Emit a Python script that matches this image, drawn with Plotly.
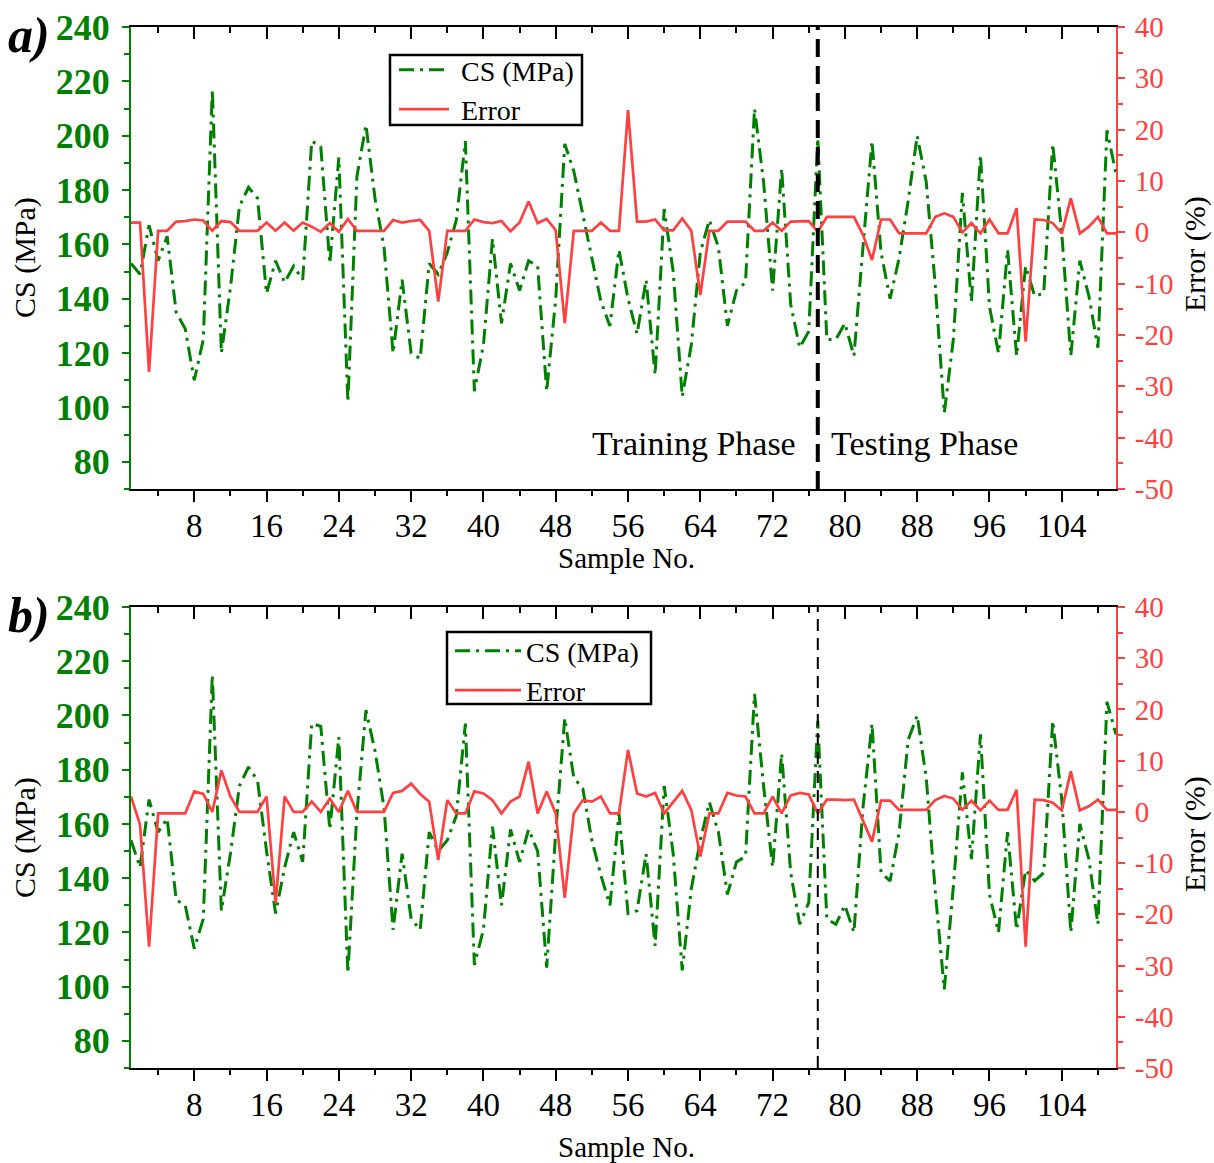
import plotly.graph_objects as go

samples = list(range(1, 111))

cs_a = [153, 149, 167, 154, 163, 135, 129, 110, 125, 217,
        120, 144, 174, 181, 177, 142, 154, 146, 152, 147,
        198, 196, 153, 192, 102, 185, 204, 177, 159, 120,
        147, 120, 118, 153, 149, 157, 169, 198, 106, 123,
        162, 131, 153, 143, 154, 152, 106, 140, 197, 187,
        171, 155, 139, 130, 158, 140, 127, 147, 112, 173,
        150, 104, 123, 157, 169, 159, 130, 143, 146, 210,
        183, 143, 188, 138, 122, 128, 199, 125, 125, 131,
        119, 159, 198, 157, 140, 155, 176, 200, 183, 145,
        98, 125, 179, 139, 193, 137, 120, 158, 119, 152,
        141, 142, 197, 164, 119, 154, 141, 122, 202, 186]

err_a = [1.9, 1.9, -27.2, 0.3, 0.3, 2.1, 2.2, 2.5, 2.3, 0.3,
         2.2, 2.0, 0.3, 0.3, 0.3, 1.9, 0.3, 1.9, 0.3, 1.9,
         1.1, 0.1, 1.8, 0.1, 2.6, 0.3, 0.3, 0.3, 0.3, 2.4,
         1.9, 2.2, 2.4, 0.3, -13.5, 0.3, 0.3, 0.3, 2.5, 2.0,
         1.8, 2.2, 0.2, 1.9, 6.0, 1.8, 2.6, 0.4, -17.7, 0.3,
         0.3, 0.3, 1.9, 0.3, 0.3, 23.8, 2.1, 2.1, 2.5, 0.4,
         0.4, 2.7, 0.3, -12.2, 0.3, 0.3, 2.1, 2.1, 2.1, 0.3,
         0.3, 1.9, 0.3, 2.1, 2.2, 2.2, 0.1, 3.0, 3.0, 3.0,
         3.0, -0.5, -5.4, 2.5, 2.5, -0.2, -0.2, -0.2, -0.2, 3.0,
         3.7, 3.0, 0.0, 1.8, -0.2, 2.5, -0.2, -0.2, 4.7, -21.3,
         2.5, 2.4, 1.8, -0.2, 6.6, -0.2, 1.1, 3.0, -0.2, -0.2]

cs_b = [154, 144, 169, 157, 162, 132, 130, 114, 125, 215,
        128, 149, 174, 181, 176, 150, 127, 144, 157, 146,
        197, 196, 158, 192, 105, 164, 202, 187, 166, 121,
        149, 125, 121, 157, 150, 154, 163, 197, 108, 121,
        159, 130, 158, 146, 158, 150, 107, 157, 199, 177,
        173, 154, 141, 130, 164, 127, 128, 149, 115, 174,
        149, 106, 136, 154, 168, 157, 134, 146, 148, 208,
        174, 144, 186, 142, 123, 131, 198, 125, 123, 130,
        120, 166, 197, 142, 139, 157, 191, 200, 177, 135,
        99, 137, 179, 147, 193, 134, 120, 157, 121, 143,
        139, 142, 198, 169, 120, 160, 147, 123, 205, 193]

err_b = [3.0, -2.5, -26.3, -0.3, -0.3, -0.3, -0.3, 4.0, 3.5, 0.0,
         8.1, 3.0, 0.0, 0.0, 0.0, 3.0, -17.8, 3.0, 0.0, 0.0,
         2.0, 0.0, 2.6, 0.0, 4.1, 0.0, 0.0, 0.0, 0.0, 3.7,
         4.1, 5.5, 3.5, 2.0, -9.4, 2.3, -0.3, -0.3, 4.0, 3.6,
         2.3, -0.3, 2.0, 3.0, 9.8, -0.3, 4.0, -0.3, -16.8, -0.3,
         2.3, 2.0, 3.0, -0.3, -0.3, 12.1, 3.6, 3.0, 3.7, -0.3,
         2.0, 4.1, 0.4, -8.7, -0.3, -0.3, 3.7, 3.2, 3.0, -0.3,
         -0.3, 3.0, -0.3, 3.2, 3.7, 3.4, -0.3, 2.4, 2.4, 2.3,
         2.4, -1.6, -5.8, 2.2, 2.2, 0.4, 0.4, 0.4, 0.4, 2.3,
         3.1, 2.6, 0.4, 2.2, 0.3, 2.2, 0.4, 0.4, 4.3, -26.3,
         2.4, 2.3, 1.8, 0.3, 7.9, 0.3, 1.1, 2.4, 0.4, 0.4]

err_ticks = [-50, -40, -30, -20, -10, 0, 10, 20, 30, 40]
err_labels = ["-50", "-40", "-30", "-20", "-10", "0", "10", "20", "30", "40"]

phase_split = 77
x_range = [1, 110]
cs_range = [70, 240]
err_range = [-50, 40]

GREEN = "#008000"
RED = "#ff4040"
SERIF = "Liberation Serif, Times New Roman, serif"
NB = "\u00a0"

W, H = 1214, 1163
L, R, T, B = 131, 1116, 27, 1068


def px(x):
    return (x - L) / (R - L)


def py(y):
    return (B - y) / (B - T)


dom_a = [py(489), 1.0]
dom_b = [0.0, py(607)]

fig = go.Figure()

green_dash = "15px,6px,3px,6px"

fig.add_trace(go.Scatter(x=samples, y=cs_a, mode="lines", name=NB + "CS (MPa)",
                         line=dict(color=GREEN, width=3, dash=green_dash),
                         xaxis="x", yaxis="y", legend="legend"))
fig.add_trace(go.Scatter(x=samples, y=err_a, mode="lines", name=NB + "Error",
                         line=dict(color=RED, width=2.7),
                         xaxis="x", yaxis="y2", legend="legend"))
fig.add_trace(go.Scatter(x=samples, y=cs_b, mode="lines", name="CS (MPa)",
                         line=dict(color=GREEN, width=3, dash=green_dash),
                         xaxis="x2", yaxis="y3", legend="legend2"))
fig.add_trace(go.Scatter(x=samples, y=err_b, mode="lines", name="Error",
                         line=dict(color=RED, width=2.7),
                         xaxis="x2", yaxis="y4", legend="legend2"))

# empty helper traces so that the tick-only overlay axes get drawn
for xa, ya in (("x3", "y"), ("x5", "y"), ("x4", "y3"), ("x6", "y3")):
    fig.add_trace(go.Scatter(x=[None], y=[None], mode="lines", showlegend=False,
                             hoverinfo="skip", xaxis=xa, yaxis=ya))

# x axis carrying the labels (no ticks, so labels sit close to the axis)
xlabels = dict(range=x_range, tick0=0, dtick=8, ticks="", ticklabelstandoff=6,
               showline=True, linecolor="black", linewidth=2, showgrid=False,
               zeroline=False, tickfont=dict(family=SERIF, size=33, color="black"))
# overlay axes carrying tick marks
xticks_bottom = dict(range=x_range, tick0=0, dtick=8, ticks="outside", ticklen=12,
                     tickwidth=2, tickcolor="black", showline=False, showgrid=False,
                     zeroline=False, showticklabels=False, side="bottom",
                     minor=dict(dtick=4, tick0=0, ticks="outside", ticklen=6,
                                tickwidth=2, tickcolor="black"))
xticks_top = dict(range=x_range, tick0=0, dtick=8, ticks="inside", ticklen=12,
                  tickwidth=2, tickcolor="black", showline=True, linecolor="black",
                  linewidth=2, showgrid=False, zeroline=False, showticklabels=False,
                  side="top",
                  minor=dict(dtick=4, tick0=0, ticks="inside", ticklen=6,
                             tickwidth=2, tickcolor="black"))
ycs = dict(range=cs_range, tick0=0, dtick=20, ticks="outside", ticklen=7,
           tickwidth=2, tickcolor=GREEN, showline=True, linecolor=GREEN,
           linewidth=2, showgrid=False, zeroline=False, ticklabelstandoff=5,
           tickfont=dict(family=SERIF, size=36, color=GREEN, weight="bold"),
           minor=dict(dtick=10, tick0=0, ticks="outside", ticklen=5,
                      tickwidth=2, tickcolor=GREEN))
yerr = dict(range=err_range, tickmode="array", tickvals=err_ticks, ticktext=err_labels,
            ticks="outside", ticklen=7, ticklabelstandoff=4,
            tickwidth=2, tickcolor=RED, showline=True, linecolor=RED,
            linewidth=2, showgrid=False, zeroline=False, side="right",
            tickfont=dict(family=SERIF, size=29, color=RED),
            minor=dict(dtick=5, tick0=0, ticks="outside", ticklen=5,
                       tickwidth=2, tickcolor=RED))

fig.update_layout(
    width=W, height=H,
    margin=dict(l=L, r=W - R, t=T, b=H - B, autoexpand=False),
    paper_bgcolor="white", plot_bgcolor="white",
    font=dict(family=SERIF, color="black"),
    xaxis=dict(**xlabels, anchor="y", domain=[0, 1]),
    xaxis3=dict(**xticks_top, anchor="y", overlaying="x"),
    xaxis5=dict(**xticks_bottom, anchor="y", overlaying="x"),
    yaxis=dict(**ycs, anchor="x", domain=dom_a),
    yaxis2=dict(**yerr, anchor="x", overlaying="y"),
    xaxis2=dict(**xlabels, anchor="y3", domain=[0, 1]),
    xaxis4=dict(**xticks_top, anchor="y3", overlaying="x2"),
    xaxis6=dict(**xticks_bottom, anchor="y3", overlaying="x2"),
    yaxis3=dict(**ycs, anchor="x2", domain=dom_b),
    yaxis4=dict(**yerr, anchor="x2", overlaying="y3"),
    legend=dict(x=px(394), y=py(45), xanchor="left", yanchor="top",
                borderwidth=0, bgcolor="rgba(0,0,0,0)",
                font=dict(family=SERIF, size=28), itemwidth=50,
                tracegroupgap=0),
    legend2=dict(x=px(450), y=py(626), xanchor="left", yanchor="top",
                 borderwidth=0, bgcolor="rgba(0,0,0,0)",
                 font=dict(family=SERIF, size=28), itemwidth=66,
                 tracegroupgap=0),
    showlegend=True,
)

# legend frames
fig.add_shape(type="rect", xref="paper", yref="paper", x0=px(390), x1=px(582),
              y0=py(125), y1=py(55), line=dict(color="black", width=2.5),
              fillcolor="white", layer="above")
fig.add_shape(type="rect", xref="paper", yref="paper", x0=px(447), x1=px(651),
              y0=py(704), y1=py(632), line=dict(color="black", width=2.5),
              fillcolor="white", layer="above")

# phase separation lines
fig.add_shape(type="line", xref="x", yref="y domain", x0=phase_split, x1=phase_split,
              y0=0, y1=1, line=dict(color="black", width=4, dash="18px,9px"))
fig.add_shape(type="line", xref="x2", yref="y3 domain", x0=phase_split, x1=phase_split,
              y0=0, y1=1, line=dict(color="black", width=2, dash="12px,7px"))

ann = []
ann.append(dict(text="Training Phase", xref="paper", yref="paper", x=px(798), y=py(443),
                xanchor="right", yanchor="middle", showarrow=False,
                font=dict(family=SERIF, size=34, color="black")))
ann.append(dict(text="Testing Phase", xref="paper", yref="paper", x=px(829), y=py(443),
                xanchor="left", yanchor="middle", showarrow=False,
                font=dict(family=SERIF, size=34, color="black")))
for lab, ytop in (("a)", 5), ("b)", 585)):
    ann.append(dict(text="<b><i>" + lab + "</i></b>", xref="paper", yref="paper",
                    x=px(6), y=py(ytop), xanchor="left", yanchor="top", showarrow=False,
                    font=dict(family=SERIF, size=50, color="black")))
for yc in (258, 838):
    ann.append(dict(text="CS (MPa)", xref="paper", yref="paper", x=px(25), y=py(yc),
                    xanchor="center", yanchor="middle", textangle=-90, showarrow=False,
                    font=dict(family=SERIF, size=30, color="black")))
for yc in (254, 834):
    ann.append(dict(text="Error (%)", xref="paper", yref="paper", x=px(1195), y=py(yc),
                    xanchor="center", yanchor="middle", textangle=-90, showarrow=False,
                    font=dict(family=SERIF, size=30, color="black")))
for yc in (558, 1147):
    ann.append(dict(text="Sample No.", xref="paper", yref="paper", x=px(626), y=py(yc),
                    xanchor="center", yanchor="middle", showarrow=False,
                    font=dict(family=SERIF, size=29, color="black")))
fig.update_layout(annotations=ann)

fig.write_html("out.html", config={"displayModeBar": False},
               post_script="document.body.style.margin='0';")
